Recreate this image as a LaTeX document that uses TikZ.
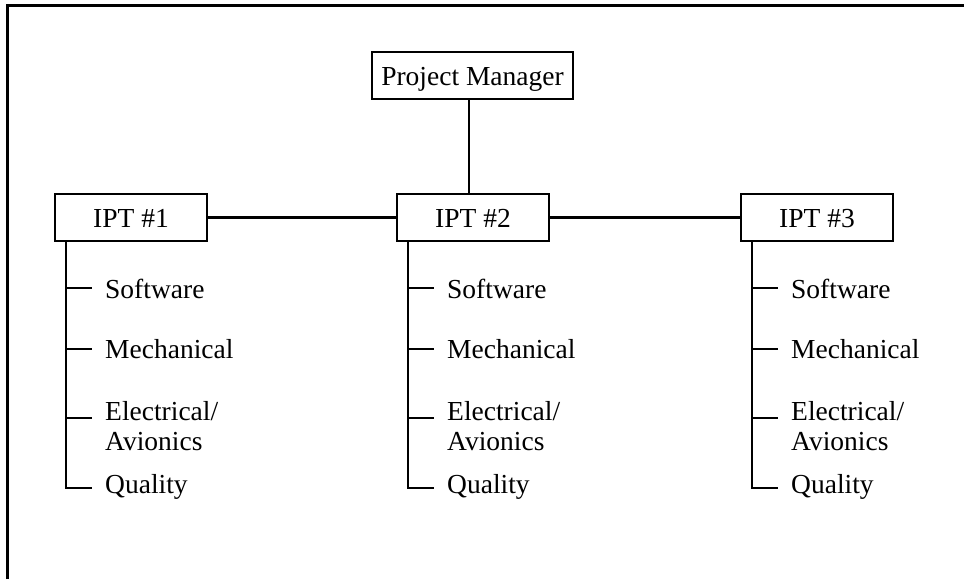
\documentclass[tikz,border=0pt]{standalone}
\usepackage{fontspec}
\setmainfont{Liberation Serif}
\begin{document}
\begin{tikzpicture}[x=1pt,y=-1pt,
  every node/.style={font=\fontsize{27.5}{30}\selectfont, inner sep=0pt},
  unitbox/.style={draw, line width=2.6pt, minimum height=47pt,
                  text height=23pt, text depth=3pt},
  iptbox/.style={unitbox, minimum width=152pt},
  item/.style={anchor=base west},
  twoline/.style={anchor=west, align=left},
  link/.style={line width=2.3pt},
  frameline/.style={line width=3pt}
]
\useasboundingbox (0,0) rectangle (964,579);

% outer frame (top and left edges)
\coordinate (fa) at (7,5);
\coordinate (fb) at (964,5);
\coordinate (fc) at (7,579);
\draw[frameline] (fc) -- (fa) -- (fb);

% boxes
\node[unitbox, minimum width=201pt] (pm) at (472.5,75.5) {Project Manager};
\node[iptbox] (ipt1) at (131,217.5) {IPT \#1};
\node[iptbox] (ipt2) at (473,217.5) {IPT \#2};
\node[iptbox] (ipt3) at (817,217.5) {IPT \#3};

\draw[link] (pm.south -| 469,0) -- (ipt2.north -| 469,0);
\draw[link] (ipt1) -- (ipt2);
\draw[link] (ipt2) -- (ipt3);

% discipline lists under each team
\foreach \i/\x in {1/67, 2/409, 3/753}{
  \node[item] (sw\i) at (\x+38,298) {Software};
  \node[item] (me\i) at (\x+38,358) {Mechanical};
  \node[twoline] (el\i) at (\x+38,426) {Electrical/\\Avionics};
  \node[item] (qu\i) at (\x+38,493) {Quality};
  \coordinate (top\i) at ([xshift=12pt]ipt\i.south west);
  \coordinate (tsw\i) at (\x+25,288);
  \coordinate (tme\i) at (\x+25,349);
  \coordinate (tel\i) at (\x+25,418);
  \coordinate (tqu\i) at (\x+25,488);
  \draw[link] (top\i) |- (tqu\i);
  \draw[link] (top\i |- tsw\i) -- (tsw\i);
  \draw[link] (top\i |- tme\i) -- (tme\i);
  \draw[link] (top\i |- tel\i) -- (tel\i);
}
\end{tikzpicture}
\end{document}
